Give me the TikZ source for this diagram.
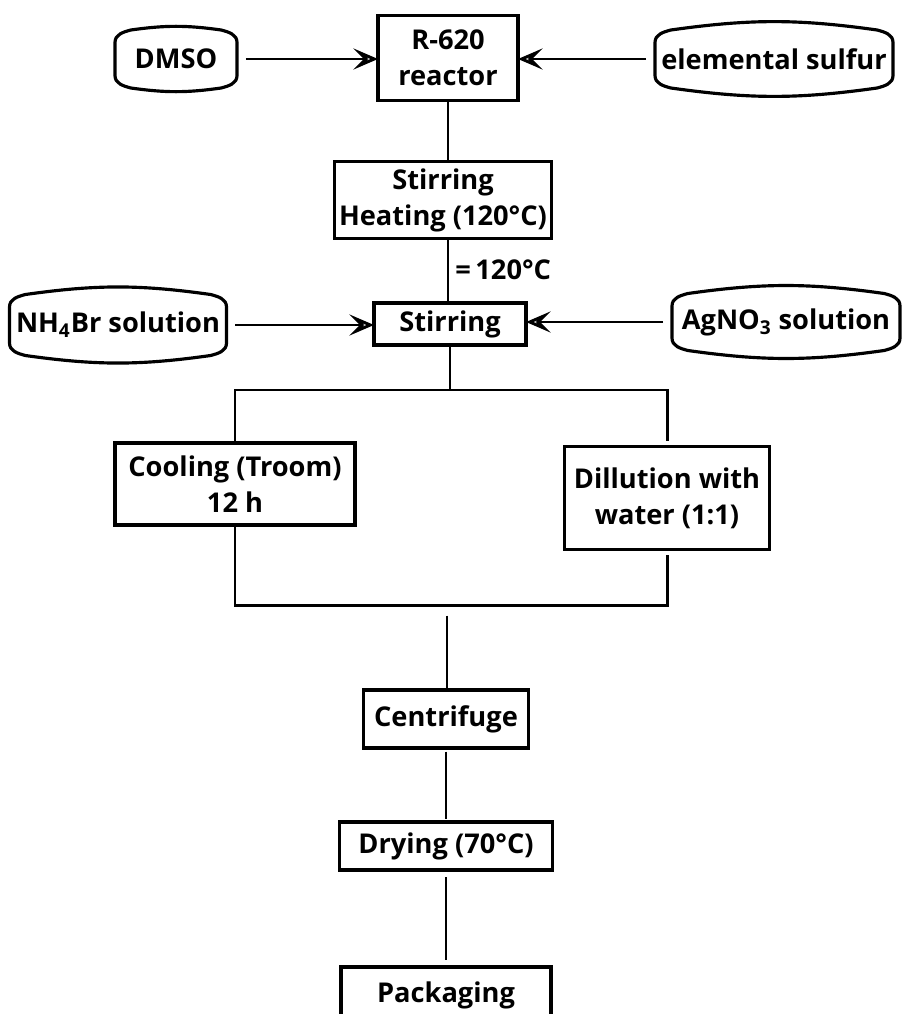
\documentclass[tikz,border=0pt]{standalone}
\usepackage{fontspec}
\setmainfont{Open Sans}
\usetikzlibrary{arrows.meta}

\begin{document}
\begin{tikzpicture}[x=0.02cm, y=-0.02cm, font=\bfseries\fontsize{15.5}{20.5}\selectfont]
\useasboundingbox (0,0) rectangle (902,1014);

\coordinate (P_dmso) at (176, 59);
\coordinate (P_reactor) at (448, 58);
\coordinate (P_sulfur) at (774, 59);
\coordinate (P_heat) at (443, 200);
\coordinate (P_stir) at (450, 324);
\coordinate (P_nhbr) at (118, 325);
\coordinate (P_agno) at (786, 322);
\coordinate (P_cool) at (235, 484);
\coordinate (P_dil) at (667, 498);
\coordinate (P_cent) at (446, 719);
\coordinate (P_dry) at (446, 846);
\coordinate (P_pack) at (446, 995);
\coordinate (Split) at (450, 390);
\coordinate (Merge) at (447, 605);


\tikzset{BoxStyle/.style = {draw, line width=2pt, rectangle, align=center, inner sep=1pt, outer sep=0pt} }
\tikzset{FeedStyle/.style = {rectangle, align=center, inner sep=1pt, outer sep=0pt} }

\node[BoxStyle, minimum width=2.8cm, minimum height=1.7cm] (Reactor) at (P_reactor) {R-620\\reactor};
\node[BoxStyle, minimum width=4.34cm, minimum height=1.54cm] (Heat) at (P_heat) {Stirring\\Heating (120°C)};
\node[BoxStyle, minimum width=3.04cm, minimum height=0.84cm] (Stir) at (P_stir) {Stirring};
\node[BoxStyle, minimum width=4.8cm, minimum height=1.64cm] (Cool) at (P_cool) {Cooling (Troom)\\12 h};
\node[BoxStyle, minimum width=4.1cm, minimum height=2.06cm] (Dil) at (P_dil) {Dillution with\\water (1:1)};
\node[BoxStyle, minimum width=3.3cm, minimum height=1.16cm] (Cent) at (P_cent) {Centrifuge};
\node[BoxStyle, minimum width=4.26cm, minimum height=0.96cm] (Dry) at (P_dry) {Drying (70°C)};
\node[BoxStyle, minimum width=4.2cm, minimum height=1.12cm] (Pack) at (P_pack) {Packaging};

\node[FeedStyle, minimum width=2.44cm, minimum height=1.16cm] (Dmso) at (P_dmso) {DMSO};
\node[FeedStyle, minimum width=4.76cm, minimum height=1.16cm] (Sulfur) at (P_sulfur) {elemental sulfur};
\node[FeedStyle, minimum width=4.34cm, minimum height=1.22cm] (Nhbr) at (P_nhbr) {NH\textsubscript{4}Br solution};
\node[FeedStyle, minimum width=4.56cm, minimum height=1.14cm] (Agno) at (P_agno) {AgNO\textsubscript{3} solution};

\node[anchor=west, inner sep=0pt] (Temp) at (455, 270) {=\,120°C};


% barrel outline round the feed nodes
\tikzset{FeedLine/.style = {line width=1.8pt} }
\foreach \n in {Dmso, Sulfur, Nhbr, Agno}
  \draw[FeedLine] ([yshift=-7pt]\n.north west) to[out=90, in=195] ([xshift=9pt]\n.north west)
    to[out=8, in=172] ([xshift=-9pt]\n.north east) to[out=-15, in=90] ([yshift=-7pt]\n.north east)
    -- ([yshift=7pt]\n.south east) to[out=-90, in=15] ([xshift=-9pt]\n.south east)
    to[out=188, in=-8] ([xshift=9pt]\n.south west) to[out=165, in=-90] ([yshift=7pt]\n.south west) -- cycle;


\tikzset{LineStyle/.style = {line width=1.7pt} }
\tikzset{FeedArrow/.style = {line width=1.7pt, -{Stealth[open, length=14pt, width=12pt, inset=6pt]}, shorten <=5pt} }

\draw[FeedArrow] (Dmso.east) -- (Dmso.east -| Reactor.west);
\draw[FeedArrow] (Sulfur.west) -- (Sulfur.west -| Reactor.east);
\draw[FeedArrow] (Nhbr.east) -- (Nhbr.east -| Stir.west);
\draw[FeedArrow] (Agno.west) -- (Agno.west -| Stir.east);

\draw[LineStyle] (Reactor.south) -- (Reactor.south |- Heat.north);
\draw[LineStyle] (Reactor.south |- Heat.south) -- (Reactor.south |- Stir.north);
\draw[LineStyle] (Stir.south) -- (Split);
\draw[LineStyle] (Split) -| (Cool.north);
\draw[LineStyle, shorten >=3pt] (Split) -| (Dil.north);
\draw[LineStyle] (Merge) -| (Cool.south);
\draw[LineStyle, shorten >=3pt] (Merge) -| (Dil.south);
\draw[LineStyle, shorten <=6pt] (Merge) -- (Merge |- Cent.north);
\draw[LineStyle, shorten <=2pt, shorten >=2pt] (Cent) -- (Dry);
\draw[LineStyle, shorten <=4pt, shorten >=4pt] (Dry) -- (Pack);

\end{tikzpicture}
\end{document}
